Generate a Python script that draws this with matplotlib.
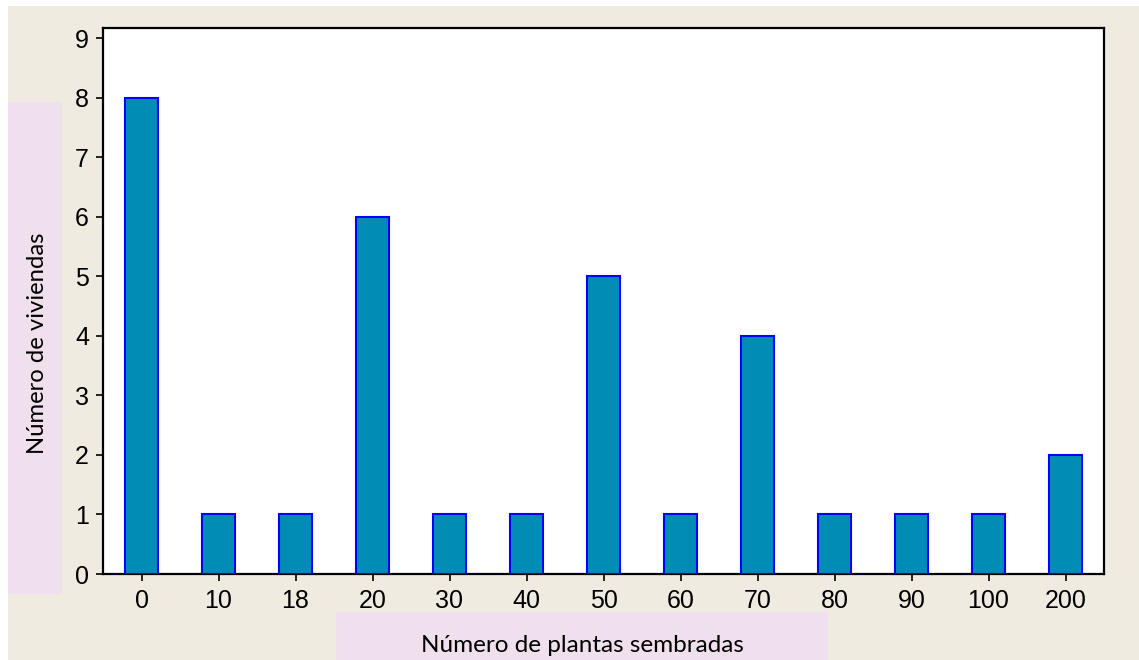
import matplotlib
matplotlib.use('Agg')
import matplotlib.pyplot as plt
from matplotlib.patches import Rectangle
import numpy as np

# data
categorias = ['0', '10', '18', '20', '30', '40', '50', '60', '70', '80', '90', '100', '200']
viviendas = [8, 1, 1, 6, 1, 1, 5, 1, 4, 1, 1, 1, 2]
yticks = list(range(0, 10))

W, H = 1139, 660
fig = plt.figure(figsize=(W / 100, H / 100), dpi=100, facecolor='white')

# beige background and pink label boxes
fig.patches.append(Rectangle((8 / W, 0), 1 - 8 / W, 1 - 6 / H, transform=fig.transFigure,
                             facecolor='#efebe0', edgecolor='none', zorder=-2))
fig.patches.append(Rectangle((8 / W, 1 - 594 / H), 54 / W, 492 / H, transform=fig.transFigure,
                             facecolor='#f0e0ee', edgecolor='none', zorder=-1))
fig.patches.append(Rectangle((336 / W, 0), 492 / W, 48 / H, transform=fig.transFigure,
                             facecolor='#f0e0ee', edgecolor='none', zorder=-1))

ax = fig.add_axes([103 / W, 1 - 574 / H, (1104 - 103) / W, (574 - 28) / H])
ax.set_zorder(1)
ax.set_facecolor('white')

x = np.arange(len(categorias))
ax.bar(x, viviendas, width=0.43, color='#008cb4', edgecolor='#0000ff', linewidth=1.5, zorder=3)

ax.set_xlim(-0.5, len(categorias) - 0.5)
ax.set_ylim(0, 9.17)
ax.set_xticks(x)
ax.set_xticklabels(categorias)
ax.set_yticks(yticks)

for s in ax.spines.values():
    s.set_linewidth(1.6)
    s.set_color('black')

ax.tick_params(axis='both', direction='out', length=5, width=1.2, labelsize=18)
ax.tick_params(axis='x', pad=6)
ax.tick_params(axis='y', pad=5)
for lab in ax.get_xticklabels() + ax.get_yticklabels():
    lab.set_family('Liberation Sans')

fig.text(582 / W, 1 - 645 / H, 'Número de plantas sembradas', ha='center', va='center',
         fontsize=17.5, family='Lato', zorder=2)
fig.text(38 / W, 1 - 343 / H, 'Número de viviendas', ha='center', va='center',
         rotation=90, fontsize=17.2, family='Lato', zorder=2)

fig.savefig('out.png', dpi=100, facecolor=fig.get_facecolor())
